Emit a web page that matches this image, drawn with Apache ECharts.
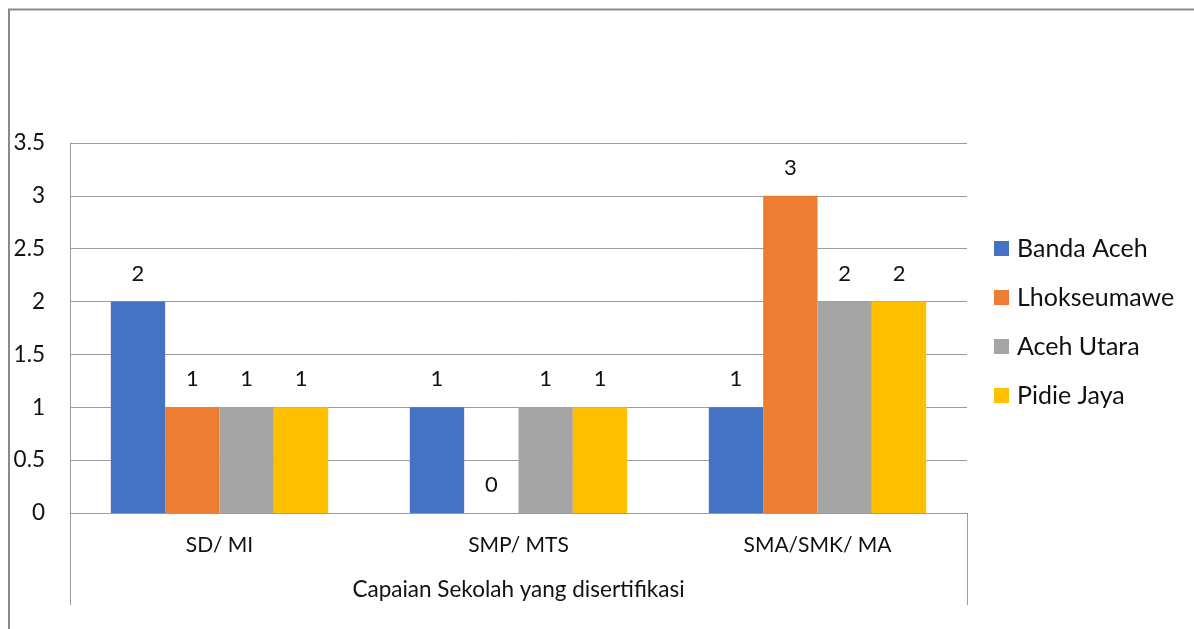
<!DOCTYPE html>
<html>
<head>
<meta charset="utf-8">
<title>Capaian Sekolah yang disertifikasi</title>
<script src="https://cdn.jsdelivr.net/npm/echarts@6/dist/echarts.min.js"></script>
<style>
  html, body { margin: 0; padding: 0; background: #fff; }
  #chart { width: 1194px; height: 629px; }
</style>
</head>
<body>
<div id="chart"></div>
<script>
// School levels along the category axis
const categories = ['SD/ MI', 'SMP/ MTS', 'SMA/SMK/ MA'];
const groupTitle = 'Capaian Sekolah yang disertifikasi';

// Number of certified schools per region
const regions = ['Banda Aceh', 'Lhokseumawe', 'Aceh Utara', 'Pidie Jaya'];
const bandaAceh   = [2, 1, 1];
const lhokseumawe = [1, 0, 3];
const acehUtara   = [1, 1, 2];
const pidieJaya   = [1, 1, 2];

const palette = ['#4472C4', '#ED7D31', '#A5A5A5', '#FFC000'];
const FONT = 'Lato, "DejaVu Sans", sans-serif';
const GRID_COLOR = '#9c9c9c';

const chart = echarts.init(document.getElementById('chart'), null, { renderer: 'canvas' });

const seriesData = [bandaAceh, lhokseumawe, acehUtara, pidieJaya];

chart.setOption({
  animation: false,
  color: palette,
  textStyle: { fontFamily: FONT, color: '#111' },
  grid: { left: 70, right: 227, top: 143, bottom: 116, containLabel: false },
  legend: {
    orient: 'vertical',
    left: 994,
    top: 236,
    padding: 0,
    itemWidth: 15,
    itemHeight: 15,
    itemGap: 24,
    icon: 'rect',
    data: regions,
    textStyle: { fontFamily: FONT, fontSize: 25, color: '#111', lineHeight: 24, padding: [0, 0, 0, 3] }
  },
  xAxis: [
    {
      type: 'category',
      data: categories,
      position: 'bottom',
      axisLine: { show: true, lineStyle: { color: GRID_COLOR, width: 1 } },
      axisTick: { show: false },
      axisLabel: { fontFamily: FONT, fontSize: 21, color: '#111', margin: 22 },
      splitLine: { show: false }
    },
    {
      type: 'category',
      data: [groupTitle],
      position: 'bottom',
      boundaryGap: true,
      axisLine: { show: false },
      axisTick: { show: true, length: 92, inside: false, alignWithLabel: false, lineStyle: { color: GRID_COLOR, width: 1 } },
      axisLabel: { fontFamily: FONT, fontSize: 22.5, color: '#111', margin: 65 },
      splitLine: { show: false }
    }
  ],
  yAxis: {
    type: 'value',
    min: 0,
    max: 3.5,
    interval: 0.5,
    axisLine: { show: true, lineStyle: { color: GRID_COLOR, width: 1 } },
    axisTick: { show: false },
    axisLabel: { fontFamily: FONT, fontSize: 22.5, color: '#111', margin: 25 },
    splitLine: { show: true, lineStyle: { color: GRID_COLOR, width: 1 } }
  },
  series: regions.map((name, i) => ({
    name: name,
    type: 'bar',
    xAxisIndex: 0,
    data: seriesData[i],
    barGap: '0%',
    barCategoryGap: '27.3%',
    itemStyle: { color: palette[i] },
    label: {
      show: true,
      position: 'top',
      distance: 17,
      fontFamily: FONT,
      fontSize: 22,
      color: '#111'
    }
  })),
  graphic: [
    {
      type: 'polyline',
      silent: true,
      shape: { points: [[9, 629], [9, 9.5], [1194, 9.5]] },
      style: { stroke: '#8a8a8a', lineWidth: 2, fill: null }
    }
  ]
});
</script>
</body>
</html>
